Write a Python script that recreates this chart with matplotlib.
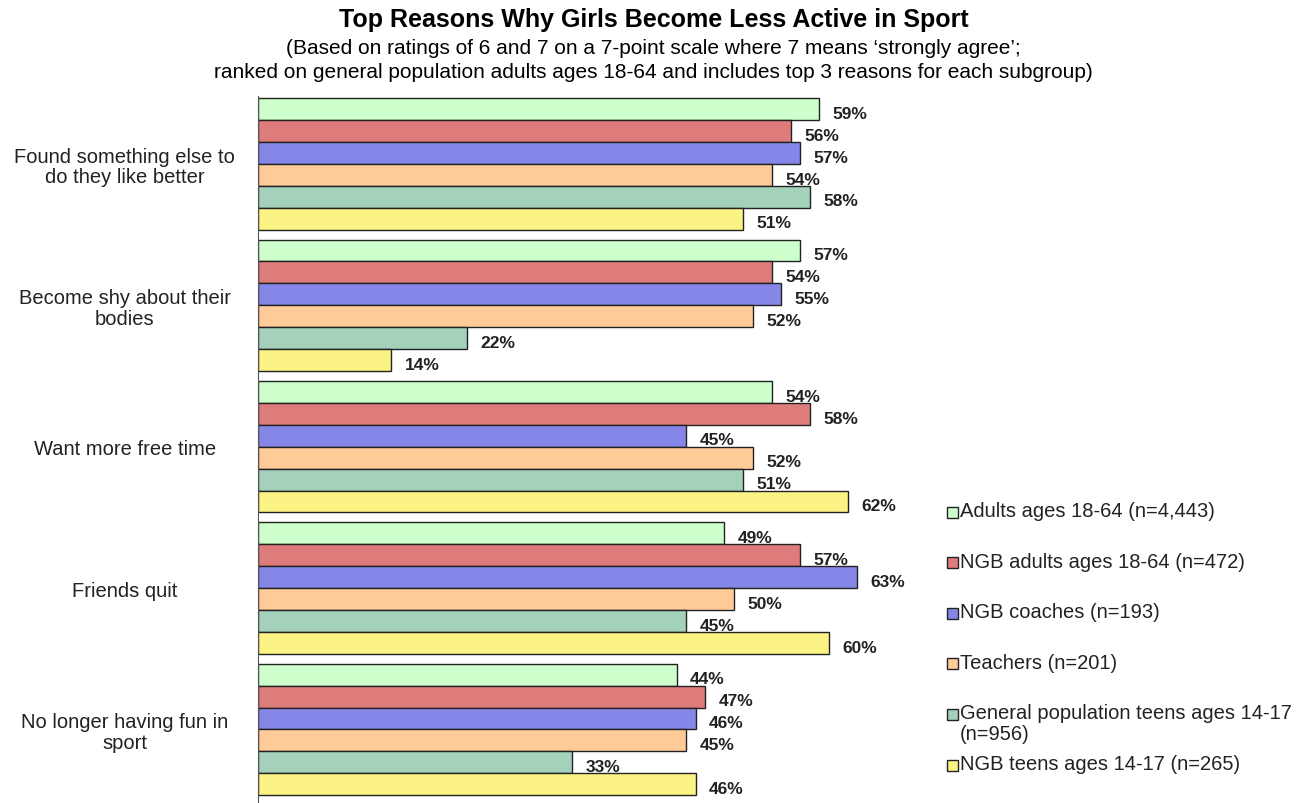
import numpy as np
import matplotlib.pyplot as plt
from matplotlib.patches import Rectangle

plt.rcParams['font.family'] = ['Liberation Sans', 'DejaVu Sans']

# Reasons (top to bottom) and survey groups
reasons = ["Found something else to\ndo they like better",
           "Become shy about their\nbodies",
           "Want more free time",
           "Friends quit",
           "No longer having fun in\nsport"]
groups = ["Adults ages 18-64 (n=4,443)",
          "NGB adults ages 18-64 (n=472)",
          "NGB coaches (n=193)",
          "Teachers (n=201)",
          "General population teens ages 14-17\n(n=956)",
          "NGB teens ages 14-17 (n=265)"]
colors = ["#CCFFCC", "#DE7B7B", "#8686E8", "#FFCC99", "#A4D1B9", "#FBF484"]

adults = [59, 57, 54, 49, 44]
ngb_adults = [56, 54, 58, 57, 47]
ngb_coaches = [57, 55, 45, 63, 46]
teachers = [54, 52, 52, 50, 45]
gp_teens = [58, 22, 51, 45, 33]
ngb_teens = [51, 14, 62, 60, 46]
series = [adults, ngb_adults, ngb_coaches, teachers, gp_teens, ngb_teens]

W, H = 1307, 804
fig = plt.figure(figsize=(W / 100, H / 100), dpi=100)
ax = fig.add_axes([258 / W, 0.0, (924 - 258) / W, (H - 97) / H])

n = len(series)
bar_h = 0.155
pos = np.arange(len(reasons))
for i, vals in enumerate(series):
    y = pos + (i - (n - 1) / 2) * bar_h
    ax.barh(y, vals, height=bar_h, color=colors[i], edgecolor="#222222",
            linewidth=1.0)
    for yy, v in zip(y, vals):
        ax.text(v + 1.4, yy + 0.03, f"{v}%", va="center", ha="left",
                fontsize=12.5, fontweight="bold", color="#222222")

ax.set_xlim(0, 70)
ax.set_ylim(len(reasons) - 0.5 + 0.02, -0.5 + 0.02)
ax.set_xticks([])
ax.set_yticks(pos)
ax.set_yticklabels(reasons, fontsize=14.5, ha="center", color="#222222",
                   linespacing=1.1)
ax.tick_params(axis="y", length=0, pad=96)
for s in ["top", "right", "bottom"]:
    ax.spines[s].set_visible(False)
ax.spines["left"].set_color("#555555")

# legend drawn by hand so the two-line entry keeps the row pitch
row_y0, row_pitch = 513, 50.6
for i, (c, g) in enumerate(zip(colors, groups)):
    yc = row_y0 + i * row_pitch
    fig.add_artist(Rectangle((947 / W, 1 - (yc + 5.5) / H), 11 / W, 11 / H,
                             facecolor=c, edgecolor="#222222", linewidth=1.0,
                             transform=fig.transFigure))
    fig.text(960 / W, 1 - (yc - 11) / H, g, ha="left", va="top",
             fontsize=14.5, color="#222222", linespacing=1.1)

fig.text(0.5, 1 - 20 / H, "Top Reasons Why Girls Become Less Active in Sport",
         ha="center", va="center", fontsize=18, fontweight="bold")
fig.text(0.5, 1 - 48 / H,
         "(Based on ratings of 6 and 7 on a 7-point scale where 7 means \u2018strongly agree\u2019;",
         ha="center", va="center", fontsize=15)
fig.text(0.5, 1 - 73 / H,
         "ranked on general population adults ages 18-64 and includes top 3 reasons for each subgroup)",
         ha="center", va="center", fontsize=15)

fig.savefig("out.png", dpi=100)
